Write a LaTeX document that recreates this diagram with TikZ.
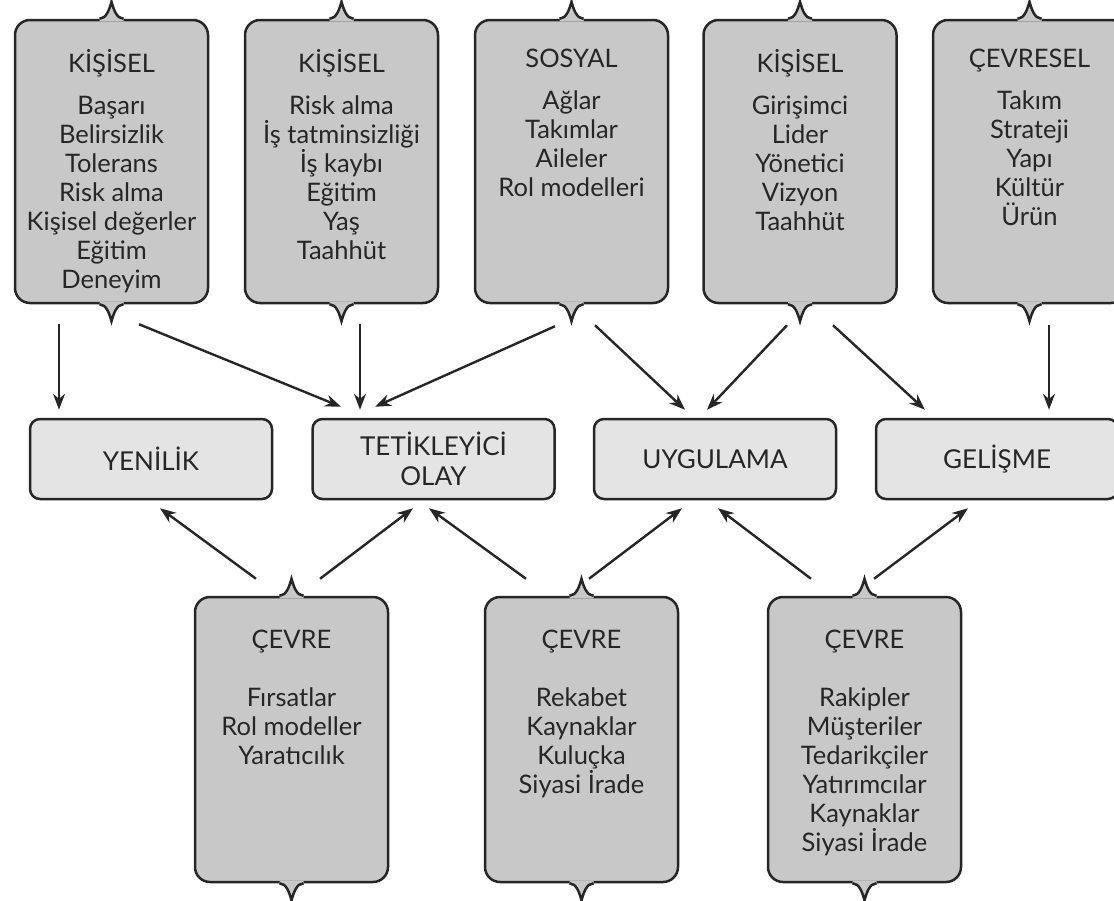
\documentclass[tikz,border=0pt]{standalone}
\usepackage{fontspec}
\setmainfont{Lato}
\usetikzlibrary{arrows.meta,calc}
\definecolor{boxgray}{RGB}{200,200,200}
\definecolor{midgray}{RGB}{228,228,228}
\definecolor{linecol}{RGB}{38,38,38}
\tikzset{
  boxline/.style={draw=linecol, line width=2.5pt},
  tallbox/.style={boxline, fill=boxgray, rounded corners=15pt, minimum width=193pt, minimum height=283pt, inner sep=0pt},
  midbox/.style={boxline, fill=midgray, rounded corners=10pt, minimum width=242pt, minimum height=80pt, inner sep=0pt, align=center, text=linecol, font=\fontsize{26}{30}\selectfont},
  boxtext/.style={anchor=north, align=center, inner sep=0pt, text=linecol, font=\fontsize{25.5}{29}\selectfont},
  arr/.style={draw=linecol, line width=2.4pt, -{Stealth[length=16pt,width=12pt]}}
}
\newcommand\drawnotch[2]{%
  \begin{scope}[shift={(#1)}, yscale=#2]
    \fill[boxgray] (-12,-2.5) -- (-12,0) .. controls (-5,0) and (-2,10) .. (0,17) .. controls (2,10) and (5,0) .. (12,0) -- (12,-2.5) -- cycle;
    \draw[draw=linecol, line width=2.5pt, line join=miter] (-12,0) .. controls (-5,0) and (-2,10) .. (0,17) .. controls (2,10) and (5,0) .. (12,0);
  \end{scope}}
\begin{document}
\begin{tikzpicture}[x=1pt, y=-1pt]
\useasboundingbox (0,0) rectangle (1114,900);
% top boxes
\node[tallbox] (t1) at (111.5,161.5) {};
\node[tallbox] (t2) at (341.5,161.5) {};
\node[tallbox] (t3) at (571.5,161.5) {};
\node[tallbox] (t4) at (800,161.5) {};
\node[tallbox] (t5) at (1029.5,161.5) {};
\foreach \n in {t1,t2,t3,t4,t5}{\drawnotch{\n.north}{-1}\drawnotch{\n.south}{1}}
% bottom boxes
\node[tallbox, minimum height=285pt] (b1) at (291.5,739.5) {};
\node[tallbox, minimum height=285pt] (b2) at (581.5,739.5) {};
\node[tallbox, minimum height=285pt] (b3) at (864.5,739.5) {};
\foreach \n in {b1,b2,b3}{\drawnotch{\n.north}{-1}\drawnotch{\n.south}{1}}
% texts top
\node[boxtext] (t1txt) at ($(t1.north)+(0,30)$) {KİŞİSEL\\[13pt]Başarı\\Belirsizlik\\Tolerans\\Risk alma\\Kişisel değerler\\Eğitim\\Deneyim};
\node[boxtext] (t2txt) at ($(t2.north)+(0,30)$) {KİŞİSEL\\[13pt]Risk alma\\İş tatminsizliği\\İş kaybı\\Eğitim\\Yaş\\Taahhüt};
\node[boxtext] (t3txt) at ($(t3.north)+(0,30)$) {SOSYAL\\[13pt]Ağlar\\Takımlar\\Aileler\\Rol modelleri};
\node[boxtext] (t4txt) at ($(t4.north)+(0,30)$) {KİŞİSEL\\[13pt]Girişimci\\Lider\\Yönetici\\Vizyon\\Taahhüt};
\node[boxtext] (t5txt) at ($(t5.north)+(0,30)$) {ÇEVRESEL\\[13pt]Takım\\Strateji\\Yapı\\Kültür\\Ürün};
% texts bottom
\node[boxtext] (b1txt) at ($(b1.north)+(0,34)$) {ÇEVRE\\[29pt]Fırsatlar\\Rol modeller\\Yaratıcılık};
\node[boxtext] (b2txt) at ($(b2.north)+(0,34)$) {ÇEVRE\\[29pt]Rekabet\\Kaynaklar\\Kuluçka\\Siyasi İrade};
\node[boxtext] (b3txt) at ($(b3.north)+(0,34)$) {ÇEVRE\\[29pt]Rakipler\\Müşteriler\\Tedarikçiler\\Yatırımcılar\\Kaynaklar\\Siyasi İrade};
% middle boxes
\node[midbox] (m1) at (151,459) {YENİLİK};
\node[midbox] (m2) at (433.5,459) {TETİKLEYİCİ\\OLAY};
\node[midbox] (m3) at (715,459) {UYGULAMA};
\node[midbox] (m4) at (997,459) {GELİŞME};
% top arrows
\draw[arr] ($(t1.south)+(-52.5,20)$) -- ($(m1.north)+(-92,-8)$);
\draw[arr] ($(t1.south)+(27.5,20)$) -- ($(m2.north)+(-92.5,-11)$);
\draw[arr] ($(t2.south)+(18.5,20)$) -- ($(m2.north)+(-73.5,-8)$);
\draw[arr] ($(t3.south)+(-16.5,22)$) -- ($(m2.north)+(-58.5,-11)$);
\draw[arr] ($(t3.south)+(23.5,21)$) -- ($(m3.north)+(-30,-8)$);
\draw[arr] ($(t4.south)+(-13,21)$) -- ($(m3.north)+(-8,-8)$);
\draw[arr] ($(t4.south)+(33,21)$) -- ($(m4.north)+(-72,-8)$);
\draw[arr] ($(t5.south)+(19.5,21)$) -- ($(m4.north)+(52,-8)$);
% bottom arrows
\draw[arr] ($(b1.north)+(-35.5,-17)$) -- ($(m1.south)+(9,8)$);
\draw[arr] ($(b1.north)+(28.5,-17)$) -- ($(m2.south)+(-20.5,8)$);
\draw[arr] ($(b2.north)+(-55.5,-17)$) -- ($(m2.south)+(-4.5,8)$);
\draw[arr] ($(b2.north)+(7.5,-17)$) -- ($(m3.south)+(-33,8)$);
\draw[arr] ($(b3.north)+(-53.5,-17)$) -- ($(m3.south)+(3,8)$);
\draw[arr] ($(b3.north)+(9.5,-17)$) -- ($(m4.south)+(-29,8)$);
\end{tikzpicture}
\end{document}
